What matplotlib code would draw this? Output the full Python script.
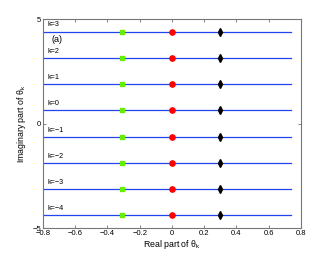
import matplotlib
matplotlib.use("Agg")
import matplotlib.pyplot as plt

plt.rcParams['font.family'] = ['Liberation Sans', 'DejaVu Sans']
plt.rcParams['mathtext.fontset'] = 'custom'
plt.rcParams['mathtext.rm'] = 'Liberation Sans'

k_values = [3, 2, 1, 0, -1, -2, -3, -4]
imag_parts = [4.40, 3.14, 1.88, 0.63, -0.63, -1.88, -3.14, -4.40]
line_x = [-0.8, 0.74]
green_x = -0.31
red_x = 0.0
black_x = 0.30
x_ticks = [-0.8, -0.6, -0.4, -0.2, 0, 0.2, 0.4, 0.6, 0.8]
x_tick_labels = ['\u22120.8', '\u22120.6', '\u22120.4', '\u22120.2', '0', '0.2', '0.4', '0.6', '0.8']
y_ticks = [-5, 0, 5]
y_tick_labels = ['\u22125', '0', '5']

fig = plt.figure(figsize=(3.32, 2.57), dpi=100)
ax = fig.add_axes([0.1295, 0.1128, 0.777, 0.813])

for k, y in zip(k_values, imag_parts):
    ax.plot(line_x, [y, y], color='#2244ee', lw=0.9, zorder=1)
    ax.plot([green_x], [y], marker='s', ms=3.2, color='#66ee00', mec='#66ee00', ls='none', zorder=3)
    ax.plot([red_x], [y], marker='o', ms=3.8, color='#ff0000', mec='#ff0000', ls='none', zorder=3)
    ax.plot([black_x], [y], marker='d', ms=4.0, color='black', mec='black', ls='none', zorder=3)
    lab = 'k=' + (str(k) if k >= 0 else '\u2212' + str(-k))
    ax.text(-0.775, y + 0.15, lab, fontsize=5.2, ha='left', va='bottom')

ax.text(-0.75, 4.03, '(a)', fontsize=6.5, ha='left', va='center')

ax.set_xlim(-0.8, 0.8)
ax.set_ylim(-5, 5)
ax.set_xticks(x_ticks)
ax.set_xticklabels(x_tick_labels)
ax.set_yticks(y_ticks)
ax.set_yticklabels(y_tick_labels)
ax.tick_params(direction='in', length=2.5, width=0.5, labelsize=5.5, pad=1.5,
               top=True, right=True, color='#555555')
for s in ax.spines.values():
    s.set_color('#777777')
    s.set_linewidth(0.8)

ax.set_xlabel('Real part of \u03b8$_\\mathrm{k}$', fontsize=6.3, labelpad=1)
ax.set_ylabel('Imaginary part of \u03b8$_\\mathrm{k}$', fontsize=6.3, labelpad=3)

fig.savefig('out.png', dpi=100)
